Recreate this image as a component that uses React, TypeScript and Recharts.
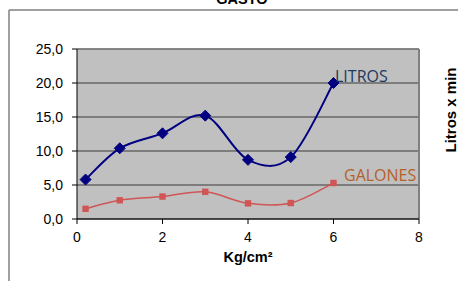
import React from "react";
import { LineChart, Line, XAxis, YAxis, CartesianGrid, ReferenceLine } from "recharts";

const pressures = [0.2, 1, 2, 3, 4, 5, 6];
const litros = [5.8, 10.4, 12.6, 15.2, 8.7, 9.1, 20.0];
const galones = [1.5, 2.75, 3.3, 4.0, 2.3, 2.35, 5.3];
const xTicks = [0, 2, 4, 6, 8];
const yTicks = [0, 5, 10, 15, 20, 25];

const data = pressures.map((x, i) => ({ x, litros: litros[i], galones: galones[i] }));

// Excel-style smoothed line (Catmull-Rom as cubic Bezier)
const excelCurve = (context: any) => {
  let pts: number[][] = [];
  return {
    areaStart() {},
    areaEnd() {},
    lineStart() {
      pts = [];
    },
    point(x: number, y: number) {
      pts.push([+x, +y]);
    },
    lineEnd() {
      if (!pts.length) return;
      context.moveTo(pts[0][0], pts[0][1]);
      for (let i = 0; i < pts.length - 1; i++) {
        const p0 = pts[i - 1] || pts[i];
        const p1 = pts[i];
        const p2 = pts[i + 1];
        const p3 = pts[i + 2] || p2;
        context.bezierCurveTo(
          p1[0] + (p2[0] - p0[0]) / 6,
          p1[1] + (p2[1] - p0[1]) / 6,
          p2[0] - (p3[0] - p1[0]) / 6,
          p2[1] - (p3[1] - p1[1]) / 6,
          p2[0],
          p2[1]
        );
      }
    },
  };
};

const fmt = (v: number) => v.toFixed(1).replace(".", ",");

const Diamond = (props: any) => {
  const { cx, cy, index } = props;
  const r = 5.5;
  return (
    <path
      key={"d" + index}
      d={`M${cx},${cy - r}L${cx + r},${cy}L${cx},${cy + r}L${cx - r},${cy}Z`}
      fill="#000080"
      stroke="#000080"
    />
  );
};

const Square = (props: any) => {
  const { cx, cy, index } = props;
  const s = 3.2;
  return <rect key={"s" + index} x={cx - s} y={cy - s} width={2 * s} height={2 * s} fill="#D05555" />;
};

const makeEndLabel = (text: string, color: string, dx: number, dy: number, lastIndex: number) => (props: any) => {
  const { x, y, index } = props;
  if (index !== lastIndex) return null;
  return (
    <text key={"l" + text} x={x + dx} y={y + dy} fill={color} fontSize={16} fontFamily="'Open Sans', sans-serif">
      {text}
    </text>
  );
};

const tickStyle = { fill: "#000", fontSize: 14, fontFamily: "'Liberation Sans', Arial, sans-serif" };

export default function App() {
  const last = pressures.length - 1;
  return (
    <div style={{ position: "absolute", left: 0, top: 0, width: 458, height: 281, background: "#fff" }}>
      <LineChart width={458} height={281} data={data} margin={{ top: 49, right: 39, left: 0, bottom: 0 }}>
        <CartesianGrid horizontal vertical={false} fill="#C0C0C0" stroke="#3a3a3a" strokeWidth={1.2} />
        <ReferenceLine x={8} stroke="#808080" strokeWidth={2} />
        <ReferenceLine y={25} stroke="#808080" strokeWidth={1.5} />
        <XAxis
          type="number"
          dataKey="x"
          domain={[0, 8]}
          ticks={xTicks}
          interval={0}
          height={62}
          tickSize={5}
          tickMargin={8}
          stroke="#000"
          tick={tickStyle}
          label={{
            value: "Kg/cm²",
            position: "insideTop",
            offset: 33,
            style: { fill: "#000", fontSize: 14.5, fontWeight: "bold", fontFamily: "'Liberation Sans', Arial, sans-serif" },
          }}
        />
        <YAxis
          type="number"
          domain={[0, 25]}
          ticks={yTicks}
          interval={0}
          width={77}
          tickSize={5}
          tickMargin={9}
          stroke="#000"
          tick={tickStyle}
          tickFormatter={fmt}
        />
        <Line
          dataKey="galones"
          type={excelCurve as any}
          stroke="#D05555"
          strokeWidth={1.5}
          dot={Square}
          activeDot={false}
          isAnimationActive={false}
          label={makeEndLabel("GALONES", "#B5602A", 10.5, -2, last)}
        />
        <Line
          dataKey="litros"
          type={excelCurve as any}
          stroke="#000080"
          strokeWidth={2}
          dot={Diamond}
          activeDot={false}
          isAnimationActive={false}
          label={makeEndLabel("LITROS", "#1F3A60", 1.5, -1.5, last)}
        />
      </LineChart>
      <svg width={458} height={281} style={{ position: "absolute", left: 0, top: 0, pointerEvents: "none" }}>
        <line x1={9} y1={10} x2={458} y2={10} stroke="#808080" strokeWidth={1.5} />
        <line x1={9} y1={10} x2={9} y2={281} stroke="#808080" strokeWidth={1.5} />
        <text
          x={242}
          y={4}
          textAnchor="middle"
          fontSize={14.5}
          fontWeight="bold"
          fontFamily="'Liberation Sans', Arial, sans-serif"
          fill="#000"
        >
          GASTO
        </text>
        <text
          x={456}
          y={110}
          transform="rotate(-90, 456, 110)"
          textAnchor="middle"
          fontSize={15}
          fontWeight="bold"
          fontFamily="'Liberation Sans', Arial, sans-serif"
          fill="#000"
        >
          Litros x min
        </text>
      </svg>
    </div>
  );
}
